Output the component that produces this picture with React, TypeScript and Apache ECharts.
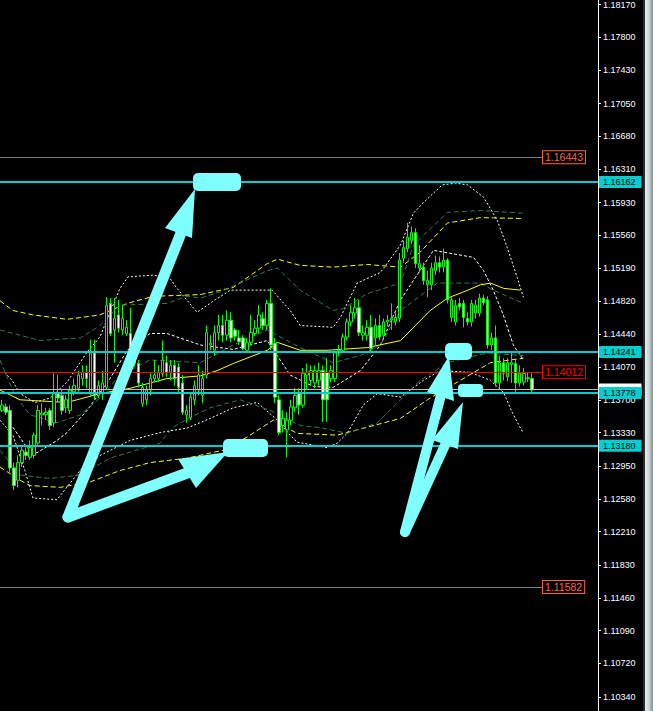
import React, { useEffect, useRef } from "react";
import * as echarts from "echarts";

// ---------- data ----------
const tickLabels = [1.1817, 1.178, 1.1743, 1.1705, 1.1668, 1.1631, 1.1593, 1.1556, 1.1519, 1.1482, 1.1444,
  1.1407, 1.137, 1.1333, 1.1295, 1.1258, 1.1221, 1.1183, 1.1146, 1.1109, 1.1072, 1.1034];
const priceMin = 1.10181;
const priceMax = 1.18215;
const slotCount = 149;
const slots: string[] = [];
for (let i = 0; i < slotCount; i++) slots.push(String(i));

const cyanLevels = [1.16162, 1.14241, 1.13778, 1.1318];
const alertLevels = [1.16443, 1.11582];
const redLevel = 1.14012;
const bidPrice = 1.13816;
const boxStartSlot = 134.8;

// [open, close, low, high]
const candles = [
  [1.1358, 1.1364, 1.1356, 1.137], [1.1362, 1.1356, 1.1353, 1.1366], [1.1358, 1.1293, 1.1288, 1.1364],
  [1.1293, 1.1273, 1.1268, 1.1299], [1.1279, 1.1299, 1.1271, 1.1307], [1.1299, 1.1313, 1.1294, 1.1319],
  [1.1311, 1.1307, 1.1302, 1.1316], [1.1305, 1.1316, 1.1302, 1.1324], [1.1307, 1.133, 1.1304, 1.1333],
  [1.1321, 1.1358, 1.1319, 1.1364], [1.1353, 1.1355, 1.1341, 1.1366], [1.1353, 1.1356, 1.1347, 1.1361],
  [1.1358, 1.1341, 1.1336, 1.1361], [1.1344, 1.1377, 1.1339, 1.14], [1.1377, 1.1372, 1.1367, 1.1398],
  [1.1375, 1.1358, 1.1353, 1.1381], [1.1361, 1.137, 1.1355, 1.1375], [1.1358, 1.1381, 1.1354, 1.1386],
  [1.1379, 1.1386, 1.1375, 1.1394], [1.1383, 1.1398, 1.1379, 1.1403], [1.1394, 1.1401, 1.1386, 1.1409],
  [1.1401, 1.1394, 1.1383, 1.1409], [1.1377, 1.1423, 1.1374, 1.1438], [1.1423, 1.1375, 1.137, 1.1438],
  [1.1375, 1.1386, 1.1372, 1.1392], [1.1377, 1.1389, 1.137, 1.1403], [1.1384, 1.1477, 1.1381, 1.1486],
  [1.1479, 1.1445, 1.1442, 1.1485], [1.1449, 1.1462, 1.1412, 1.1485], [1.1466, 1.1451, 1.1446, 1.1483],
  [1.1449, 1.1462, 1.1443, 1.1477], [1.1445, 1.1452, 1.1442, 1.146], [1.1445, 1.1424, 1.142, 1.1474],
  [1.1424, 1.1411, 1.1408, 1.1428], [1.1411, 1.1389, 1.1384, 1.1415], [1.1366, 1.1384, 1.1362, 1.1389],
  [1.137, 1.1381, 1.1364, 1.1386], [1.1381, 1.1394, 1.1375, 1.14], [1.1394, 1.1398, 1.139, 1.1415],
  [1.1394, 1.1401, 1.139, 1.1409], [1.14, 1.1415, 1.1396, 1.1437], [1.1412, 1.1401, 1.1396, 1.142],
  [1.1401, 1.1409, 1.1392, 1.1415], [1.1409, 1.1394, 1.1386, 1.1415], [1.1407, 1.1384, 1.1379, 1.1412],
  [1.1389, 1.1356, 1.1353, 1.1398], [1.1353, 1.1358, 1.1344, 1.1364], [1.135, 1.1373, 1.1347, 1.1379],
  [1.137, 1.1386, 1.1364, 1.1392], [1.1381, 1.1398, 1.1375, 1.1409], [1.1375, 1.1394, 1.1366, 1.1403],
  [1.1398, 1.1446, 1.1394, 1.1454], [1.1432, 1.1434, 1.1426, 1.1443], [1.1426, 1.1446, 1.142, 1.1454],
  [1.1446, 1.1454, 1.1437, 1.1466], [1.1454, 1.1443, 1.1435, 1.1466], [1.1443, 1.146, 1.1437, 1.1471],
  [1.146, 1.144, 1.1435, 1.1469], [1.1449, 1.1442, 1.1437, 1.1451], [1.144, 1.1436, 1.1432, 1.1449],
  [1.144, 1.1428, 1.1426, 1.1443], [1.1426, 1.1435, 1.1424, 1.144], [1.1435, 1.1446, 1.1432, 1.1466],
  [1.1445, 1.1451, 1.1442, 1.146], [1.1451, 1.1466, 1.1445, 1.1477], [1.1462, 1.1454, 1.1449, 1.1469],
  [1.1454, 1.1479, 1.1449, 1.1483], [1.1479, 1.1432, 1.1426, 1.1496], [1.1434, 1.1373, 1.1366, 1.144],
  [1.137, 1.1333, 1.133, 1.1375], [1.1341, 1.1349, 1.1333, 1.1358], [1.1336, 1.1347, 1.1305, 1.1356],
  [1.1347, 1.1362, 1.1341, 1.137], [1.1361, 1.1375, 1.1356, 1.1383], [1.1377, 1.1364, 1.1353, 1.1383],
  [1.1364, 1.14, 1.1361, 1.1406], [1.1398, 1.1401, 1.1381, 1.1411], [1.1392, 1.1403, 1.1386, 1.1409],
  [1.1389, 1.1403, 1.1383, 1.1409], [1.1392, 1.1403, 1.1386, 1.1412], [1.1403, 1.137, 1.1345, 1.1409],
  [1.1401, 1.137, 1.1345, 1.1417], [1.1394, 1.1403, 1.139, 1.1409], [1.1394, 1.1423, 1.139, 1.1426],
  [1.1423, 1.1426, 1.1419, 1.1432], [1.1426, 1.1441, 1.1423, 1.1445], [1.1441, 1.1458, 1.1437, 1.1462],
  [1.1458, 1.1469, 1.1453, 1.1477], [1.1468, 1.1474, 1.1462, 1.1485], [1.1474, 1.1446, 1.1442, 1.1483],
  [1.1443, 1.1446, 1.1437, 1.1454], [1.1443, 1.1452, 1.1437, 1.146], [1.1452, 1.1428, 1.1424, 1.1466],
  [1.144, 1.1454, 1.1432, 1.1462], [1.1454, 1.1441, 1.1437, 1.1466], [1.1443, 1.1458, 1.144, 1.1462],
  [1.1458, 1.146, 1.1453, 1.1466], [1.146, 1.1462, 1.1449, 1.1479], [1.1458, 1.1463, 1.1454, 1.1469],
  [1.1462, 1.1528, 1.1458, 1.1536], [1.153, 1.1542, 1.1525, 1.155], [1.1541, 1.1554, 1.1537, 1.157],
  [1.155, 1.1559, 1.1546, 1.1566], [1.1559, 1.1524, 1.1519, 1.1564], [1.1519, 1.1524, 1.1514, 1.1545],
  [1.152, 1.1505, 1.15, 1.1525], [1.15, 1.1505, 1.1486, 1.1516], [1.15, 1.1519, 1.1494, 1.1525],
  [1.1516, 1.1525, 1.1511, 1.1533], [1.1525, 1.152, 1.1514, 1.1532], [1.152, 1.1528, 1.1514, 1.1541],
  [1.1528, 1.1483, 1.1479, 1.153], [1.1463, 1.1483, 1.1458, 1.1487], [1.1458, 1.1477, 1.1454, 1.1483],
  [1.1479, 1.1475, 1.1471, 1.1485], [1.1479, 1.1463, 1.1452, 1.1483], [1.1462, 1.1458, 1.1454, 1.1469],
  [1.1458, 1.1479, 1.1453, 1.1483], [1.1468, 1.1477, 1.1462, 1.1483], [1.1468, 1.1485, 1.1464, 1.149],
  [1.1485, 1.148, 1.1477, 1.1489], [1.1483, 1.1432, 1.1428, 1.1487], [1.1432, 1.144, 1.1426, 1.1446],
  [1.144, 1.1389, 1.1385, 1.1454], [1.1389, 1.1412, 1.1383, 1.142], [1.1412, 1.14, 1.1392, 1.1417],
  [1.1396, 1.1412, 1.1391, 1.1417], [1.141, 1.1412, 1.1389, 1.1423], [1.1411, 1.1389, 1.1379, 1.1415],
  [1.1389, 1.14, 1.1385, 1.1409], [1.139, 1.14, 1.1386, 1.1406], [1.1394, 1.1395, 1.139, 1.1401],
  [1.1394, 1.1381, 1.1377, 1.14],
];

// indicator lines: [slot, price]
const whiteUpper = [[0.7, 1.1401], [2.5, 1.1392], [4.5, 1.1377], [8.2, 1.1367], [12, 1.1372], [16.2, 1.139],
  [21.2, 1.1424], [24.4, 1.1441], [26.9, 1.1469], [29.4, 1.1496], [31.4, 1.1509], [37.7, 1.1511], [41.9, 1.1507],
  [43.6, 1.1496], [48.6, 1.1469], [53.1, 1.1483], [56.9, 1.1494], [67.3, 1.1494], [71.8, 1.1471], [74.3, 1.1454],
  [82.5, 1.1452], [84.3, 1.1463], [88.5, 1.1502], [94.3, 1.1514], [99.3, 1.1545], [102.5, 1.1581], [105, 1.1593],
  [109.7, 1.1613], [113, 1.1615], [116, 1.1613], [120, 1.1599], [123.4, 1.1573], [125.9, 1.1542], [128.4, 1.1508],
  [129.9, 1.1486]];
const whiteMiddle = [[2.7, 1.1339], [6.2, 1.1316], [8.7, 1.131], [13.7, 1.1324], [16.2, 1.1333], [21.2, 1.1358],
  [26.9, 1.1394], [31.2, 1.1426], [36.9, 1.1445], [41.1, 1.1445], [49.4, 1.1432], [57.6, 1.1427], [66.1, 1.1437],
  [71.8, 1.1398], [77.6, 1.1385], [82.5, 1.1384], [89.3, 1.1403], [94.3, 1.1432], [99.3, 1.1483], [107.5, 1.1539],
  [117.5, 1.1531], [120, 1.1516], [122.4, 1.1494], [124.9, 1.1466], [127.4, 1.1432], [129.9, 1.1415]];
const whiteLower = [[-0.5, 1.1347], [2.7, 1.133], [5.7, 1.129], [7.7, 1.1259], [13.7, 1.1257], [17, 1.1276],
  [20.2, 1.1294], [24.4, 1.1307], [31.9, 1.1324], [39.4, 1.1333], [46.1, 1.1338], [51.9, 1.1349], [57.6, 1.1361],
  [63.6, 1.1367], [68.1, 1.1349], [71.8, 1.133], [73.6, 1.1322], [81, 1.1316], [83.5, 1.1321], [86, 1.1332],
  [90, 1.1364], [93.5, 1.1377], [99.3, 1.1373], [105, 1.1392], [109.2, 1.1403], [116.7, 1.1401], [121.7, 1.1392],
  [125, 1.1378], [127.2, 1.1355], [129.9, 1.1332]];
const yellowUpper = [[-0.5, 1.1482], [2.7, 1.1471], [7.7, 1.1466], [16.2, 1.1461], [24.4, 1.1466], [31.2, 1.1479],
  [37.7, 1.1487], [49.4, 1.1489], [57.6, 1.1497], [66.1, 1.1524], [68.6, 1.1529], [74.3, 1.1522], [82.5, 1.152],
  [91, 1.1523], [99.3, 1.152], [104.2, 1.1537], [111, 1.157], [119.2, 1.1576], [129.9, 1.1575]];
const yellowLower = [[-0.5, 1.1294], [4.5, 1.1279], [7, 1.1273], [14.5, 1.1271], [21.9, 1.1277], [29.4, 1.129],
  [36.9, 1.1299], [46.1, 1.1304], [55.1, 1.1313], [61.1, 1.1328], [67.6, 1.1347], [70.6, 1.1339], [73.6, 1.1332],
  [83.5, 1.133], [88.5, 1.1336], [99.3, 1.1349], [106, 1.137], [114.2, 1.1392], [121.7, 1.1412], [129.9, 1.1417]];
const greenUpper = [[-0.5, 1.1449], [9.5, 1.1437], [19.5, 1.144], [24.4, 1.1454], [29.4, 1.1477], [41.1, 1.1479],
  [46.1, 1.1487], [49.4, 1.1485], [54.4, 1.1492], [66.1, 1.1516], [68.6, 1.1519], [74.3, 1.1494], [82.5, 1.1471],
  [85, 1.1473], [91, 1.149], [99.3, 1.1502], [102.5, 1.1545], [111, 1.1582], [119.2, 1.1584], [129.9, 1.1581]];
const greenMiddle = [[-0.5, 1.1415], [3.2, 1.1375], [7, 1.1353], [13.7, 1.1344], [19.5, 1.1353], [24.4, 1.1372],
  [29.4, 1.1398], [36.9, 1.1415], [49.4, 1.1412], [57.6, 1.1432], [66.1, 1.1449], [74.3, 1.1429], [82.5, 1.1412],
  [89.3, 1.142], [94.3, 1.1432], [99.3, 1.1471], [108.5, 1.1502], [119.2, 1.1502], [122.4, 1.1494], [129.9, 1.1479]];
const greenLower = [[-0.5, 1.1313], [4.5, 1.1285], [12, 1.1281], [19.5, 1.1285], [26.9, 1.1304], [39.4, 1.1321],
  [42.6, 1.1339], [46.9, 1.135], [51.9, 1.1361], [59.4, 1.137], [66.8, 1.1358], [74.3, 1.1341], [80, 1.1338],
  [86, 1.1332], [93.5, 1.1344], [99.3, 1.137], [104.2, 1.1392], [111, 1.1412], [120.9, 1.1423], [129.9, 1.142]];
const yellowMA = [[-0.5, 1.1381], [4.5, 1.137], [16.2, 1.1367], [24.4, 1.1377], [31.9, 1.1383], [41.1, 1.1394],
  [49.4, 1.1397], [53.6, 1.1403], [57.6, 1.1411], [66.1, 1.1426], [68.6, 1.1435], [74.3, 1.1426], [81, 1.1426],
  [91, 1.1429], [99.3, 1.1437], [106.7, 1.1471], [111, 1.1485], [115, 1.1492], [119.2, 1.15], [121.7, 1.1502],
  [125, 1.1496], [129.2, 1.1494]];

const CYAN = "#00CED1";
const ARROW = "#80ffff";
const FONT = "'Liberation Sans', Arial, sans-serif";

function lineSeries(name: string, data: number[][], color: string, type: any) {
  return {
    name, type: "line", xAxisIndex: 1, yAxisIndex: 0, data, showSymbol: false, symbol: "none",
    silent: true, z: 2, lineStyle: { color, width: 1, type }, smooth: false,
  };
}

export default function App() {
  const ref = useRef<HTMLDivElement>(null);
  useEffect(() => {
    if (!ref.current) return;
    const chart = echarts.init(ref.current, null, { renderer: "svg" });
    const boxLabel = (color: string, v: number) => ({
      show: true, position: "end", distance: 0, formatter: v.toFixed(5),
      color, fontSize: 10.5, fontFamily: FONT, backgroundColor: "#000", borderColor: color, borderWidth: 1,
      padding: [1, 2, 0, 2], lineHeight: 11,
    });
    const cyanLabel = (v: number, bg: string) => ({
      show: true, position: "end", distance: 0, formatter: v.toFixed(5),
      color: "#000", fontSize: 9, fontFamily: FONT, backgroundColor: bg, padding: [1, 6, 1, 5], lineHeight: 10,
    });
    const option: any = {
      animation: false,
      backgroundColor: "#000",
      grid: { left: 0, right: 55, top: 0, bottom: 0, containLabel: false },
      xAxis: [
        { type: "category", data: slots, show: false, boundaryGap: true },
        { type: "value", min: -0.5, max: slotCount - 0.5, show: false },
      ],
      yAxis: {
        type: "value", position: "right", min: priceMin, max: priceMax, scale: true,
        splitLine: { show: false },
        axisLine: { show: true, onZero: false, lineStyle: { color: "#ffffff", width: 1 } },
        axisTick: { show: true, length: 3, customValues: tickLabels, lineStyle: { color: "#ffffff" } },
        axisLabel: {
          show: true, customValues: tickLabels, margin: 5, color: "#ffffff", fontSize: 9, fontFamily: FONT,
          formatter: (v: any) => Number(v).toFixed(5),
        },
      },
      series: [
        lineSeries("bbUpper", whiteUpper, "#ffffff", [2, 2]),
        lineSeries("bbMiddle", whiteMiddle, "#ffffff", [3, 2]),
        lineSeries("bbLower", whiteLower, "#ffffff", [2, 2]),
        lineSeries("envUpper", yellowUpper, "#ffff00", [5, 3]),
        lineSeries("envLower", yellowLower, "#ffff00", [5, 3]),
        lineSeries("gUpper", greenUpper, "#2e7d4f", [5, 3]),
        lineSeries("gMiddle", greenMiddle, "#2e7d4f", [5, 3]),
        lineSeries("gLower", greenLower, "#2e7d4f", [5, 3]),
        lineSeries("ma", yellowMA, "#ffff00", "solid"),
        {
          name: "price", type: "candlestick", xAxisIndex: 0, yAxisIndex: 0, data: candles, barWidth: 3, z: 3,
          silent: true,
          itemStyle: { color: "#000000", color0: "#ffffff", borderColor: "#00ff00", borderColor0: "#00ff00", borderWidth: 1 },
        },
        {
          name: "levels", type: "line", xAxisIndex: 1, yAxisIndex: 0, data: [[-0.5, null]], showSymbol: false, z: 4,
          silent: true,
          markLine: {
            silent: true, symbol: ["none", "none"], animation: false, precision: 5,
            data: [
              ...alertLevels.map((v) => [
                { coord: [-0.5, v], lineStyle: { color: "#7a7a7a", width: 1, type: "solid" }, label: boxLabel("#ff6347", v) },
                { coord: [boxStartSlot, v] },
              ]),
              [
                { coord: [-0.5, redLevel], lineStyle: { color: "#ff0000", width: 1, type: "solid" }, label: boxLabel("#ff0000", redLevel) },
                { coord: [boxStartSlot, redLevel] },
              ],
              {
                yAxis: bidPrice, lineStyle: { color: "#c0c0c0", width: 1, type: "solid" },
                label: cyanLabel(bidPrice, "#ffffff"),
              },
              ...cyanLevels.map((v) => ({ yAxis: v, lineStyle: { color: CYAN, width: 2, type: "solid" }, label: cyanLabel(v, CYAN) })),
            ],
          },
        },
      ],
      graphic: [
        { type: "line", z: 40, shape: { x1: 598.5, y1: 0, x2: 598.5, y2: 711 }, style: { stroke: "#ffffff", lineWidth: 1 } },
        { type: "rect", z: 50, shape: { x: 643, y: 0, width: 2, height: 711 }, style: { fill: "#2a2a2a" } },
        {
          type: "rect", z: 50, shape: { x: 645, y: 0, width: 8, height: 711 },
          style: {
            fill: new echarts.graphic.LinearGradient(0, 0, 1, 0, [
              { offset: 0, color: "#e8f0f0" }, { offset: 0.5, color: "#c8d4d4" }, { offset: 1, color: "#7f8a8a" },
            ]),
          },
        },
        // annotation arrows
        { type: "polyline", z: 60, shape: { points: [[68, 517], [181, 233]] }, style: { stroke: ARROW, lineWidth: 11, lineCap: "round", fill: null } },
        { type: "polygon", z: 60, shape: { points: [[195, 189], [165, 228], [192, 238]] }, style: { fill: ARROW } },
        { type: "polyline", z: 60, shape: { points: [[68, 517], [190, 472]] }, style: { stroke: ARROW, lineWidth: 11, lineCap: "round", fill: null } },
        { type: "polygon", z: 60, shape: { points: [[228, 452], [178, 459], [196, 488]] }, style: { fill: ARROW } },
        { type: "polyline", z: 60, shape: { points: [[405, 532], [441, 395]] }, style: { stroke: ARROW, lineWidth: 10, lineCap: "round", fill: null } },
        { type: "polygon", z: 60, shape: { points: [[449, 356], [427, 392], [454, 401]] }, style: { fill: ARROW } },
        { type: "polyline", z: 60, shape: { points: [[405, 532], [446, 443]] }, style: { stroke: ARROW, lineWidth: 10, lineCap: "round", fill: null } },
        { type: "polygon", z: 60, shape: { points: [[463, 402], [432, 440], [458, 449]] }, style: { fill: ARROW } },
        { type: "rect", z: 61, shape: { x: 193, y: 173, width: 48, height: 18, r: 5 }, style: { fill: ARROW } },
        { type: "rect", z: 61, shape: { x: 223, y: 439, width: 45, height: 18, r: 5 }, style: { fill: ARROW } },
        { type: "rect", z: 61, shape: { x: 445, y: 343, width: 27, height: 17, r: 5 }, style: { fill: ARROW } },
        { type: "rect", z: 61, shape: { x: 458, y: 384, width: 25, height: 13, r: 4 }, style: { fill: ARROW } },
      ],
    };
    chart.setOption(option);
    return () => chart.dispose();
  }, []);
  return (
    <div
      ref={ref}
      style={{ position: "fixed", left: 0, top: 0, width: 653, height: 711, background: "#000" }}
    />
  );
}
